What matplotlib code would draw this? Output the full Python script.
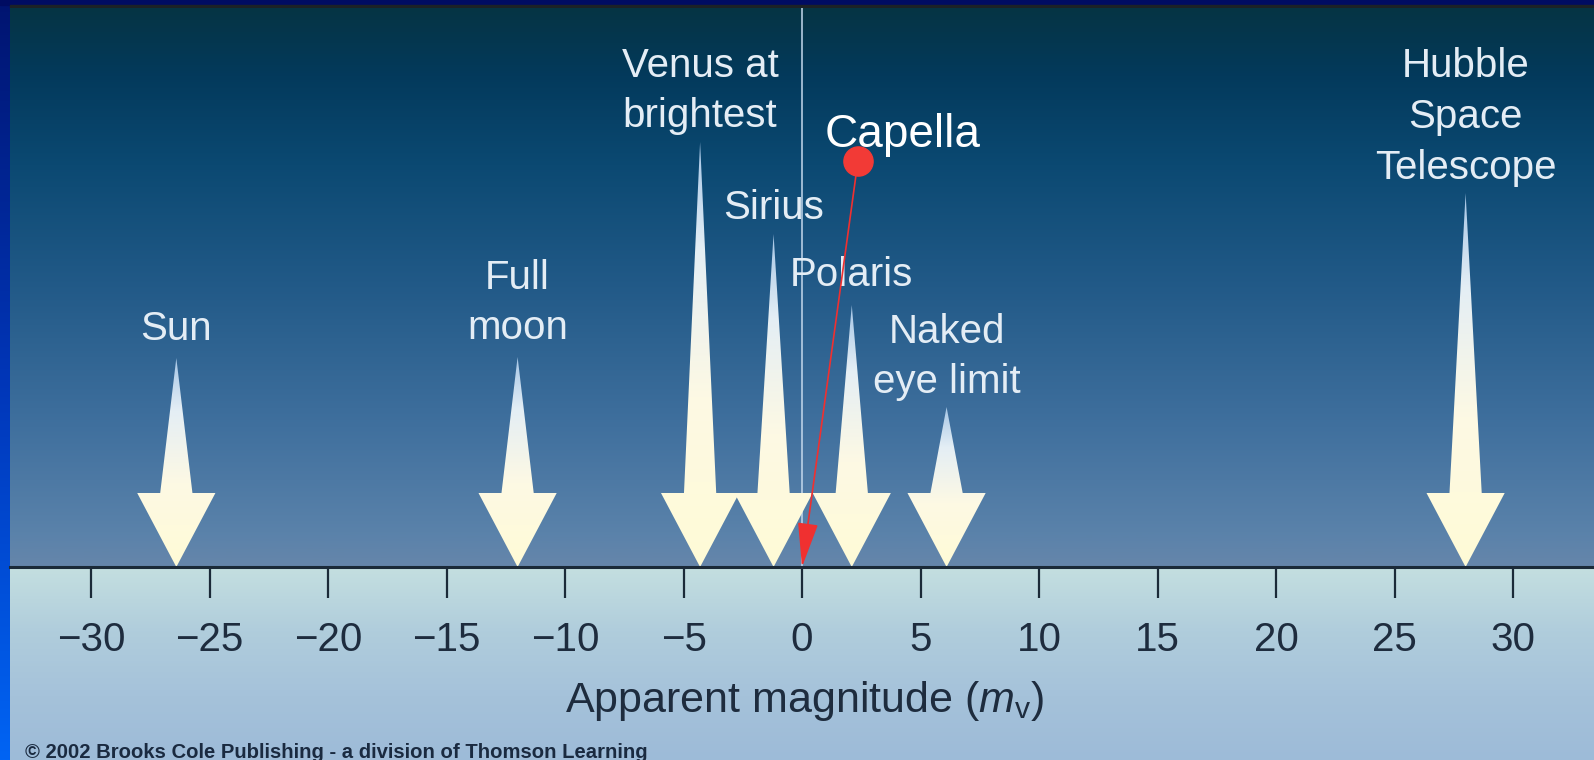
import numpy as np
import matplotlib
matplotlib.use("Agg")
import matplotlib.pyplot as plt
from matplotlib.colors import LinearSegmentedColormap
from matplotlib.patches import Polygon, Rectangle

plt.rcParams['font.family'] = ['Liberation Sans', 'DejaVu Sans']
plt.rcParams['mathtext.fontset'] = 'custom'
plt.rcParams['mathtext.rm'] = 'Liberation Sans'
plt.rcParams['mathtext.it'] = 'Liberation Sans:italic'

# objects and their apparent magnitudes
names = ["Sun", "Full\nmoon", "Venus at\nbrightest", "Sirius", "Polaris",
         "Naked\neye limit", "Hubble\nSpace\nTelescope"]
mags = [-26.4, -12.0, -4.3, -1.2, 2.1, 6.1, 28.0]
# arrow heights and label heights, in pixels above the axis line
arrow_tops = [209, 210, 425, 333, 262, 160, 374]
label_y = [238, 264, 476, 359, 292, 210, 450]

ticks = list(range(-30, 31, 5))
tick_labels = [str(t).replace('-', '\u2212') for t in ticks]

capella_mag = 0.0

W, H = 1594, 760
AXIS_Y = 567        # pixel row of the magnitude axis
PX = 23.7           # pixels per magnitude
X0 = 802            # pixel column of magnitude 0

fig = plt.figure(figsize=(W / 100, H / 100), dpi=100)

# background: light strip under the axis, blue frame on the left / top
bg = fig.add_axes([0, 0, 1, 1])
bg.axis('off')
lower = LinearSegmentedColormap.from_list('lower', ['#c4dfe0', '#b0cddc', '#a5c2da', '#9dbbd8'])
bg.imshow(np.linspace(0, 1, 256)[:, None], cmap=lower, extent=[0, W, H, AXIS_Y], aspect='auto')
side = LinearSegmentedColormap.from_list('side', ['#001470', '#0036b8', '#0064f4'])
bg.imshow(np.linspace(0, 1, 256)[:, None], cmap=side, extent=[0, 10, H, 0], aspect='auto')
bg.add_patch(Rectangle((0, 0), W, 5, color='#000c62'))
bg.add_patch(Rectangle((10, 5), W, 3, color='#1c2226'))
bg.set_xlim(0, W)
bg.set_ylim(H, 0)

# main panel
ax = fig.add_axes([10 / W, (H - AXIS_Y) / H, (W - 10) / W, (AXIS_Y - 8) / H])
x0 = (10 - X0) / PX
x1 = (W - X0) / PX
top = AXIS_Y - 8
ax.set_facecolor('none')

sky = LinearSegmentedColormap.from_list('sky', [
    (0.0, '#6686aa'), (0.06, '#5a82aa'), (0.25, '#40709e'), (0.5, '#225a88'),
    (0.72, '#0b4972'), (0.88, '#033a5c'), (1.0, '#063444')])
ax.imshow(np.linspace(0, 1, 256)[:, None], cmap=sky, extent=[x0, x1, 0, top],
          origin='lower', aspect='auto', zorder=0)

# thin line at magnitude 0
ax.plot([0, 0], [0, top], color='#c4d8ec', lw=1.3, alpha=0.85, zorder=1)

arrow_cmap = LinearSegmentedColormap.from_list('arr', [
    (0.0, '#fffbd6'), (0.4, '#fdf9e4'), (0.75, '#e4eef5'), (1.0, '#a6c6e6')])
hw, sw, hh = 1.65, 0.68, 74
for m, t in zip(mags, arrow_tops):
    pts = [(m, 0), (m - hw, hh), (m - sw, hh), (m, t), (m + sw, hh), (m + hw, hh)]
    poly = Polygon(pts, closed=True, facecolor='none', edgecolor='none')
    ax.add_patch(poly)
    im = ax.imshow(np.linspace(0, 1, 256)[:, None], cmap=arrow_cmap,
                   extent=[m - hw, m + hw, 0, t], origin='lower', aspect='auto', zorder=2)
    im.set_clip_path(poly)

for name, m, ly in zip(names, mags, label_y):
    ax.text(m, ly, name, ha='center', va='center', color='#e4edf5',
            fontsize=29, linespacing=1.42, zorder=3)

# Capella annotation
cx, cy = 2.36, 406
ax.annotate('', xy=(capella_mag, 0), xytext=(cx, cy),
            arrowprops=dict(arrowstyle='-|>,head_length=1.4,head_width=0.32',
                            color='#f03030', lw=1.2, shrinkA=0, shrinkB=0,
                            mutation_scale=20), zorder=5)
ax.plot([cx], [cy], 'o', ms=21, color='#f23a36', zorder=6)
ax.text(4.26, 420, 'Capella', ha='center', va='baseline', color='white',
        fontsize=33, zorder=6)

ax.set_xlim(x0, x1)
ax.set_ylim(0, top)
for s in ['top', 'left', 'right']:
    ax.spines[s].set_visible(False)
ax.spines['bottom'].set_color('#1b2a38')
ax.spines['bottom'].set_linewidth(2.2)
ax.spines['bottom'].set_zorder(4)
ax.set_yticks([])
ax.set_xticks(ticks)
ax.set_xticklabels(tick_labels)
ax.tick_params(axis='x', direction='out', length=22, width=1.6, color='#1b2a38',
               labelsize=29, labelcolor='#1e2c3e', pad=17)

fig.text(805 / W, (H - 712) / H, 'Apparent magnitude ($m_{\\rm v}$)', ha='center',
         va='baseline', fontsize=31, color='#1e2c3e')
fig.text(25 / W, (H - 758) / H,
         '\u00a9 2002 Brooks Cole Publishing - a division of Thomson Learning',
         ha='left', va='baseline', fontsize=14.6, fontweight='bold', color='#1a2a40')

fig.savefig('out.png', dpi=100)
